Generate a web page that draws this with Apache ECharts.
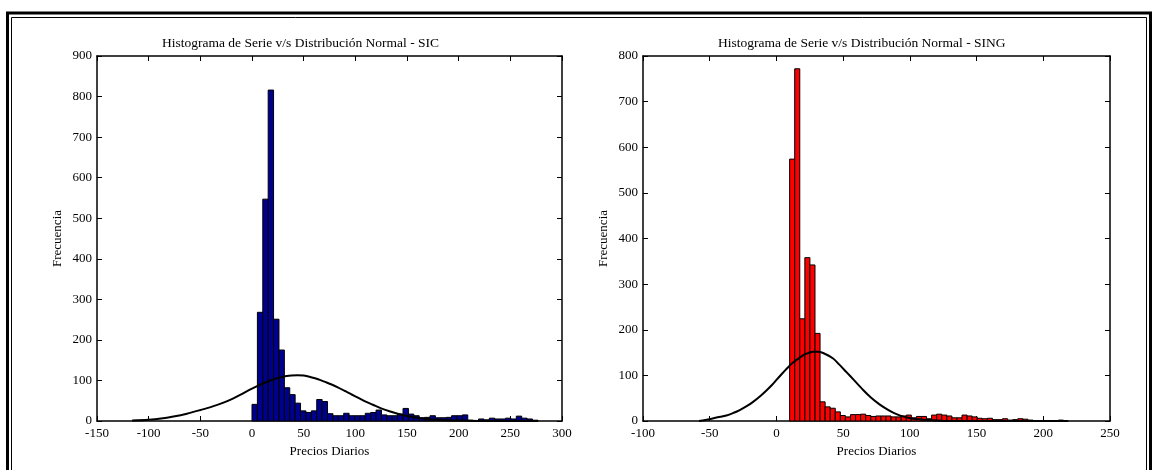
<!DOCTYPE html>
<html>
<head>
<meta charset="utf-8">
<script src="https://cdn.jsdelivr.net/npm/echarts@6/dist/echarts.min.js"></script>
<style>
  html, body { margin: 0; padding: 0; background: #fff; }
  #chart { width: 1157px; height: 470px; }
</style>
</head>
<body>
<div id="chart"></div>
<script>
// datos
// SIC: histograma (inicio de bins, ancho, frecuencias)
var sicBinStart = 0;
var sicBinWidth = 5.22;
var sicCounts = [41, 268, 547, 816, 251, 175, 82, 65, 44, 25, 21, 25, 53, 48, 18, 13, 13, 19, 13, 13,
  13, 19, 21, 27, 15, 13, 13, 17, 31, 17, 13, 8, 9, 13, 8, 8, 9, 13, 13, 15,
  2, 0, 5, 3, 7, 5, 5, 7, 5, 12, 7, 5, 2];
// SIC: curva normal
var sicCurveX = [-116, -100, -88, -76, -63, -50, -38, -27, -18, -11, -3, 5, 13, 21, 30, 38, 44, 50, 57, 64, 70, 77, 83, 90, 96, 103, 109, 117, 125, 133, 141, 149, 157, 165, 173, 190, 206, 240, 277];
var sicCurveY = [1, 3, 6, 11, 18, 27, 36, 46, 56, 65, 76, 86, 95, 103, 109, 112, 113, 112, 108, 103, 97, 90, 83, 74, 66, 57, 49, 40, 31, 24, 18, 13, 9, 6, 4, 2, 1, 0, 0];

// SING
var singBinStart = 9.9;
var singBinWidth = 3.8;
var singCounts = [574, 772, 224, 358, 342, 192, 42, 31, 28, 20, 12, 9, 14, 14, 15, 12, 10, 11, 11, 11,
  9, 9, 11, 13, 7, 10, 10, 5, 13, 15, 13, 11, 7, 7, 13, 11, 9, 6, 5, 6,
  3, 3, 5, 2, 3, 5, 4, 2, 0, 0, 0, 1, 0, 2, 0];
var singCurveX = [-58, -50, -44, -37.5, -32, -27.5, -22, -17.5, -12, -7.5, -3, 0, 4, 7.5, 12, 17.5, 22, 27.5, 31, 35, 42.5, 47, 52.5, 58, 65, 71, 77.5, 84, 90, 96, 102.5, 115, 127.5, 160, 218];
var singCurveY = [0, 4, 8, 12, 18, 24, 33, 42, 55, 67, 80, 90, 103, 114, 127, 139, 147, 152, 152, 149, 137, 124, 107, 90, 68, 51, 36, 24, 15, 9, 5, 2, 0, 0, 0];

var titles = ['Histograma de Serie v/s Distribución Normal - SIC', 'Histograma de Serie v/s Distribución Normal - SING'];
var fuente = 'Liberation Serif';

function binData(start, width, counts) {
  return counts.map(function (c, i) {
    return [start + i * width, start + (i + 1) * width, c];
  });
}
function curveData(xs, ys) {
  return xs.map(function (x, i) { return [x, ys[i]]; });
}

function renderBar(color) {
  return function (params, api) {
    var p0 = api.coord([api.value(0), api.value(2)]);
    var p1 = api.coord([api.value(1), 0]);
    return {
      type: 'rect',
      shape: { x: p0[0], y: p0[1], width: p1[0] - p0[0], height: p1[1] - p0[1] },
      style: { fill: color, stroke: '#000', lineWidth: 1 }
    };
  };
}

var lab = { color: '#000', fontFamily: fuente, fontSize: 13 };

function ejeX(grid, min, max, main) {
  return {
    type: 'value', gridIndex: grid, min: min, max: max, interval: 50,
    position: main ? 'bottom' : 'top',
    name: main ? 'Precios Diarios' : '', nameLocation: 'middle', nameGap: 22,
    nameTextStyle: { color: '#000', fontFamily: fuente, fontSize: 13 },
    axisLine: { show: true, onZero: false, lineStyle: { color: '#000', width: 1.5 } },
    axisTick: { show: true, inside: true, length: 5, lineStyle: { color: '#000' } },
    axisLabel: main ? Object.assign({ margin: 6 }, lab) : { show: false },
    splitLine: { show: false }
  };
}
function ejeY(grid, max, main) {
  return {
    type: 'value', gridIndex: grid, min: 0, max: max, interval: 100,
    position: main ? 'left' : 'right',
    name: main ? 'Frecuencia' : '', nameLocation: 'middle', nameGap: 33,
    nameTextStyle: { color: '#000', fontFamily: fuente, fontSize: 13 },
    axisLine: { show: true, onZero: false, lineStyle: { color: '#000', width: 1.5 } },
    axisTick: { show: true, inside: true, length: 5, lineStyle: { color: '#000' } },
    axisLabel: main ? Object.assign({ margin: 5 }, lab) : { show: false },
    splitLine: { show: false }
  };
}

var chart = echarts.init(document.getElementById('chart'), null, { renderer: 'canvas' });
chart.setOption({
  animation: false,
  backgroundColor: '#fff',
  title: [
    { text: titles[0], left: 157, top: 31, textStyle: { fontFamily: fuente, fontSize: 13.5, fontWeight: 'normal', color: '#000' } },
    { text: titles[1], left: 713, top: 31, textStyle: { fontFamily: fuente, fontSize: 13.5, fontWeight: 'normal', color: '#000' } }
  ],
  grid: [
    { left: 97, right: 595, top: 56, bottom: 49 },
    { left: 643, right: 47, top: 56, bottom: 49 }
  ],
  xAxis: [ejeX(0, -150, 300, true), ejeX(0, -150, 300, false), ejeX(1, -100, 250, true), ejeX(1, -100, 250, false)],
  yAxis: [ejeY(0, 900, true), ejeY(0, 900, false), ejeY(1, 800, true), ejeY(1, 800, false)],
  graphic: [
    { type: 'rect', shape: { x: 7.5, y: 13, width: 1143, height: 520 }, style: { fill: 'none', stroke: '#000', lineWidth: 3 } },
    { type: 'rect', shape: { x: 11.5, y: 17.5, width: 1135, height: 520 }, style: { fill: 'none', stroke: '#000', lineWidth: 1 } }
  ],
  series: [
    { type: 'custom', xAxisIndex: 0, yAxisIndex: 0, renderItem: renderBar('#00008f'),
      encode: { x: [0, 1], y: 2 }, data: binData(sicBinStart, sicBinWidth, sicCounts) },
    { type: 'line', xAxisIndex: 0, yAxisIndex: 0, smooth: 0.3, symbol: 'none',
      lineStyle: { color: '#000', width: 2 }, data: curveData(sicCurveX, sicCurveY) },
    { type: 'custom', xAxisIndex: 2, yAxisIndex: 2, renderItem: renderBar('#ff0000'),
      encode: { x: [0, 1], y: 2 }, data: binData(singBinStart, singBinWidth, singCounts) },
    { type: 'line', xAxisIndex: 2, yAxisIndex: 2, smooth: 0.3, symbol: 'none',
      lineStyle: { color: '#000', width: 2 }, data: curveData(singCurveX, singCurveY) }
  ]
});
</script>
</body>
</html>
